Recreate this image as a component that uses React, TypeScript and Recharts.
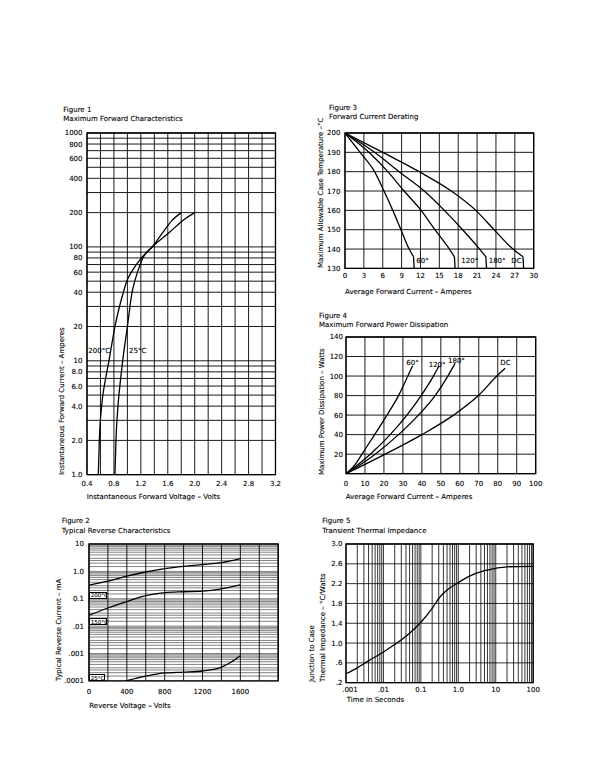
import React from "react";
import { LineChart, Line, XAxis, YAxis, CartesianGrid, ReferenceArea } from "recharts";

type Pt = { x: number; y: number };
type Rect = { left: number; top: number; width: number; height: number };

const FONT = "'DejaVu Sans', Verdana, sans-serif";
const INK = "#000";

// ---------- Figure 1: maximum forward characteristics ----------
const fwdVoltGrid = [0.4, 0.6, 0.8, 1.0, 1.2, 1.4, 1.6, 1.8, 2.0, 2.2, 2.4, 2.6, 2.8, 3.0, 3.2];
const fwdVoltTicks = [0.4, 0.8, 1.2, 1.6, 2.0, 2.4, 2.8, 3.2];
const fwdVoltLabels = ["0.4", "0.8", "1.2", "1.6", "2.0", "2.4", "2.8", "3.2"];
const fwdAmpGrid = [
  1, 2, 3, 4, 5, 6, 7, 8, 9, 10, 20, 30, 40, 50, 60, 70, 80, 90, 100, 200, 300, 400, 500, 600, 700,
  800, 900, 1000,
];
const fwdAmpTicks = [1, 2, 4, 6, 8, 10, 20, 40, 60, 80, 100, 200, 400, 600, 800, 1000];
const fwdAmpLabels = [
  "1.0", "2.0", "4.0", "6.0", "8.0", "10", "20", "40", "60", "80", "100", "200", "400", "600", "800", "1000",
];
const fwd200C: Pt[] = [
  { x: 0.568, y: 1 }, { x: 0.583, y: 2 }, { x: 0.617, y: 4 }, { x: 0.677, y: 7 },
  { x: 0.726, y: 10 }, { x: 0.815, y: 20 }, { x: 0.94, y: 40 }, { x: 0.99, y: 50 },
  { x: 1.06, y: 60 }, { x: 1.21, y: 80 }, { x: 1.37, y: 100 }, { x: 1.63, y: 135 },
  { x: 1.82, y: 170 }, { x: 2.0, y: 200 },
];
const fwd25C: Pt[] = [
  { x: 0.815, y: 1 }, { x: 0.83, y: 2 }, { x: 0.86, y: 4 }, { x: 0.9, y: 7 },
  { x: 0.93, y: 10 }, { x: 1.0, y: 20 }, { x: 1.07, y: 40 }, { x: 1.11, y: 50 },
  { x: 1.15, y: 60 }, { x: 1.23, y: 80 }, { x: 1.37, y: 100 }, { x: 1.53, y: 135 },
  { x: 1.66, y: 170 }, { x: 1.8, y: 200 },
];

// ---------- Figure 2: typical reverse characteristics ----------
const revVoltGrid = [0, 200, 400, 600, 800, 1000, 1200, 1400, 1600, 1800, 2000];
const revVoltTicks = [0, 400, 800, 1200, 1600];
const revVoltLabels = ["0", "400", "800", "1200", "1600"];
const revDecades = [0.0001, 0.001, 0.01, 0.1, 1];
const revMinor = [1, 1.5, 2, 2.5, 3, 4, 5, 6, 7, 8, 9];
const revAmpTicks = [0.0001, 0.001, 0.01, 0.1, 1, 10];
const revAmpLabels = [".0001", ".001", ".01", "0.1", "1.0", "10"];
const rev200C: Pt[] = [
  { x: 0, y: 0.317 }, { x: 200, y: 0.44 }, { x: 400, y: 0.67 }, { x: 600, y: 0.95 },
  { x: 800, y: 1.26 }, { x: 1000, y: 1.53 }, { x: 1200, y: 1.76 }, { x: 1400, y: 2.07 },
  { x: 1600, y: 2.9 },
];
const rev150C: Pt[] = [
  { x: 0, y: 0.025 }, { x: 200, y: 0.046 }, { x: 400, y: 0.079 }, { x: 600, y: 0.13 },
  { x: 800, y: 0.168 }, { x: 1000, y: 0.18 }, { x: 1200, y: 0.19 }, { x: 1400, y: 0.23 },
  { x: 1600, y: 0.32 },
];
const rev25C: Pt[] = [
  { x: 390, y: 0.0001 }, { x: 600, y: 0.000148 }, { x: 800, y: 0.000195 }, { x: 1000, y: 0.00021 },
  { x: 1200, y: 0.00023 }, { x: 1400, y: 0.00032 }, { x: 1500, y: 0.00048 }, { x: 1600, y: 0.00083 },
];

// ---------- Figure 3: forward current derating ----------
const derateAmpGrid = [0, 3, 6, 9, 12, 15, 18, 21, 24, 27, 30];
const derateTempGrid = [130, 140, 150, 160, 170, 180, 190, 200];
const derate60: Pt[] = [
  { x: 0, y: 200 }, { x: 2.4, y: 190 }, { x: 4.7, y: 180 }, { x: 6.2, y: 170 },
  { x: 7.6, y: 160 }, { x: 8.9, y: 150 }, { x: 10.2, y: 140 }, { x: 10.9, y: 136 },
];
const derate120: Pt[] = [
  { x: 0, y: 200 }, { x: 3.8, y: 190 }, { x: 6.8, y: 180 }, { x: 9.4, y: 170 },
  { x: 12.1, y: 160 }, { x: 14.3, y: 150 }, { x: 16.6, y: 140 }, { x: 17.4, y: 136 },
];
const derate180: Pt[] = [
  { x: 0, y: 200 }, { x: 4.7, y: 190 }, { x: 8.6, y: 180 }, { x: 12.6, y: 170 },
  { x: 15.8, y: 160 }, { x: 18.7, y: 150 }, { x: 21.4, y: 140 }, { x: 22.4, y: 136 },
];
const derateDC: Pt[] = [
  { x: 0, y: 200 }, { x: 6.0, y: 190 }, { x: 11.8, y: 180 }, { x: 16.9, y: 170 },
  { x: 20.8, y: 160 }, { x: 23.7, y: 150 }, { x: 26.7, y: 140 }, { x: 28.3, y: 136 },
];

// ---------- Figure 4: maximum forward power dissipation ----------
const powerAmpGrid = [0, 10, 20, 30, 40, 50, 60, 70, 80, 90, 100];
const powerWattGrid = [0, 20, 40, 60, 80, 100, 120, 140];
const powerWattTicks = [20, 40, 60, 80, 100, 120, 140];
const power60: Pt[] = [
  { x: 0, y: 0 }, { x: 4.9, y: 9.6 }, { x: 8.4, y: 20 }, { x: 15.1, y: 40 }, { x: 21.6, y: 60 },
  { x: 27.7, y: 80 }, { x: 32.6, y: 100 }, { x: 35.1, y: 110.6 },
];
const power120: Pt[] = [
  { x: 0, y: 0 }, { x: 12.8, y: 20 }, { x: 23.3, y: 40 }, { x: 32.1, y: 60 },
  { x: 39.6, y: 80 }, { x: 46.1, y: 100 }, { x: 49.1, y: 110.6 },
];
const power180: Pt[] = [
  { x: 0, y: 0 }, { x: 15.4, y: 20 }, { x: 27.7, y: 40 }, { x: 38.2, y: 60 },
  { x: 47.0, y: 80 }, { x: 53.7, y: 100 }, { x: 57.5, y: 113 },
];
const powerDC: Pt[] = [
  { x: 0, y: 0 }, { x: 20.7, y: 20 }, { x: 40, y: 40 }, { x: 56.7, y: 60 },
  { x: 69.8, y: 80 }, { x: 79.5, y: 100 }, { x: 83.9, y: 108 },
];

// ---------- Figure 5: transient thermal impedance ----------
const timeDecades = [0.001, 0.01, 0.1, 1, 10];
const timeMinor = [1, 2, 3, 4, 5, 6, 7, 8, 9];
const timeTicks = [0.001, 0.01, 0.1, 1, 10, 100];
const timeLabels = [".001", ".01", "0.1", "1.0", "10", "100"];
const zthGrid = [0.2, 0.6, 1.0, 1.4, 1.8, 2.2, 2.6, 3.0];
const zthLabels = [".2", ".6", "1.0", "1.4", "1.8", "2.2", "2.6", "3.0"];
const thermal: Pt[] = [
  { x: 0.001, y: 0.38 }, { x: 0.002, y: 0.5 }, { x: 0.004, y: 0.64 }, { x: 0.01, y: 0.82 },
  { x: 0.02, y: 0.97 }, { x: 0.05, y: 1.2 }, { x: 0.1, y: 1.42 }, { x: 0.2, y: 1.7 },
  { x: 0.3, y: 1.9 }, { x: 0.5, y: 2.07 }, { x: 1, y: 2.22 }, { x: 2, y: 2.35 },
  { x: 5, y: 2.46 }, { x: 10, y: 2.51 }, { x: 20, y: 2.54 }, { x: 100, y: 2.55 },
];

const logGrid = (decades: number[], minor: number[], top: number) => [
  ...decades.flatMap((d) => minor.map((m) => d * m)),
  top,
];

const labeler = (ticks: number[], labels: string[]) => (v: number) => {
  const i = ticks.findIndex((t) => Math.abs(t - v) <= Math.abs(t) * 1e-6 + 1e-9);
  return i < 0 ? "" : labels[i];
};

const dropTo = (s: Pt[], floor: number): Pt[] => {
  const last = s[s.length - 1];
  return [last, { x: last.x + 0.1, y: floor }];
};

const AXIS_W = 40;
const AXIS_H = 22;
const PAD_T = 4;
const PAD_R = 8;
const tickStyle = { fontSize: 7, fill: INK, fontFamily: FONT, stroke: INK, strokeWidth: 0.1 };
const textInk = { color: INK, WebkitTextStroke: "0.1px #000" } as React.CSSProperties;

function Panel({ rect, children }: { rect: Rect; children: React.ReactNode }) {
  return (
    <div style={{ position: "absolute", left: rect.left - AXIS_W, top: rect.top - PAD_T }}>
      <LineChart
        width={rect.width + AXIS_W + PAD_R}
        height={rect.height + PAD_T + AXIS_H}
        margin={{ top: PAD_T, right: PAD_R, bottom: 0, left: 0 }}
      >
        {children}
      </LineChart>
    </div>
  );
}

function Txt({ x, y, children, size = 7 }: { x: number; y: number; children: React.ReactNode; size?: number }) {
  return (
    <div
      style={{
        position: "absolute",
        left: x,
        top: y - 0.8,
        fontSize: size,
        lineHeight: `${size}px`,
        fontFamily: FONT,
        whiteSpace: "nowrap",
        ...textInk,
      }}
    >
      {children}
    </div>
  );
}

function VTxt({ x, y, children }: { x: number; y: number; children: React.ReactNode }) {
  return (
    <div
      style={{
        position: "absolute",
        left: x - 0.8,
        top: y,
        fontSize: 7,
        lineHeight: "7px",
        fontFamily: FONT,
        whiteSpace: "nowrap",
        transform: "rotate(-90deg)",
        transformOrigin: "0 0",
        ...textInk,
      }}
    >
      {children}
    </div>
  );
}

function Boxed({ x, y, w, h, children }: { x: number; y: number; w: number; h: number; children: React.ReactNode }) {
  return (
    <div
      style={{
        position: "absolute",
        left: x,
        top: y,
        width: w,
        height: h,
        boxSizing: "border-box",
        border: "0.6px solid #000",
        background: "#fff",
        fontSize: 5.5,
        lineHeight: `${h - 1}px`,
        fontFamily: FONT,
        paddingLeft: 1,
        whiteSpace: "nowrap",
        ...textInk,
      }}
    >
      {children}
    </div>
  );
}

// x tick whose first label sits a little inside the frame, as in the print
function ShiftTick(props: any) {
  const { x, y, payload, tickFormatter, index } = props;
  const label = tickFormatter ? tickFormatter(payload.value, index) : String(payload.value);
  if (!label) return null;
  return (
    <text x={x + (index === 0 ? 4 : 0)} y={y} dy="0.71em" textAnchor="middle" {...tickStyle}>
      {label}
    </text>
  );
}

const curve = (data: Pt[], key: string, type: "monotone" | "linear" = "monotone") => (
  <Line
    key={key}
    data={data}
    dataKey="y"
    type={type}
    stroke={INK}
    strokeWidth={1.3}
    dot={false}
    activeDot={false}
    isAnimationActive={false}
  />
);

const frame = (x: [number, number], y: [number, number]) => (
  <ReferenceArea
    key="frame"
    x1={x[0]}
    x2={x[1]}
    y1={y[0]}
    y2={y[1]}
    fill="none"
    stroke={INK}
    strokeWidth={1.3}
    ifOverflow="visible"
  />
);

const xAx = (
  domain: [number, number],
  grid: number[],
  fmt: (v: number) => string,
  gap: number,
  log = false,
  tick: any = tickStyle
) => (
  <XAxis
    key="x"
    dataKey="x"
    type="number"
    scale={log ? "log" : "linear"}
    domain={domain}
    allowDataOverflow
    ticks={grid}
    interval={0}
    tickFormatter={fmt}
    tick={tick}
    tickLine={false}
    axisLine={false}
    tickSize={0}
    tickMargin={gap}
    height={AXIS_H}
  />
);

const yAx = (
  domain: [number, number],
  grid: number[],
  fmt: (v: number) => string,
  gap: number,
  log = false
) => (
  <YAxis
    key="y"
    type="number"
    scale={log ? "log" : "linear"}
    domain={domain}
    allowDataOverflow
    ticks={grid}
    interval={0}
    tickFormatter={fmt}
    tick={tickStyle}
    tickLine={false}
    axisLine={false}
    tickSize={0}
    tickMargin={gap}
    width={AXIS_W}
  />
);

const grid = (w = 0.9) => <CartesianGrid key="g" stroke={INK} strokeWidth={w} />;

const fig1: Rect = { left: 87, top: 133.3, width: 188.5, height: 341.7 };
const fig2: Rect = { left: 88.6, top: 544.4, width: 189.2, height: 136.9 };
const fig3: Rect = { left: 345.3, top: 133.3, width: 188.7, height: 135.4 };
const fig4: Rect = { left: 345.5, top: 337.3, width: 189.7, height: 136.7 };
const fig5: Rect = { left: 345.5, top: 543.5, width: 187.2, height: 138.7 };

export default function App() {
  return (
    <div style={{ position: "absolute", left: 0, top: 0, width: 610, height: 779, background: "#fff" }}>
      {/* Figure 1 */}
      <Txt x={63.3} y={107.8}>Figure 1</Txt>
      <Txt x={63.3} y={116.7}>Maximum Forward Characteristics</Txt>
      <Panel rect={fig1}>
        {grid()}
        {xAx([0.4, 3.2], fwdVoltGrid, labeler(fwdVoltTicks, fwdVoltLabels), 6.5)}
        {yAx([1, 1000], fwdAmpGrid, labeler(fwdAmpTicks, fwdAmpLabels), 4.5, true)}
        {frame([0.4, 3.2], [1, 1000])}
        {curve(fwd200C, "c200")}
        {curve(fwd25C, "c25")}
      </Panel>
      <Txt x={88.3} y={349}>200°C</Txt>
      <Txt x={129} y={349}>25°C</Txt>
      <Txt x={86.7} y={495}>Instantaneous Forward Voltage – Volts</Txt>
      <VTxt x={60} y={475}>Instantaneous Forward Current – Amperes</VTxt>

      {/* Figure 2 */}
      <Txt x={61.7} y={518.3}>Figure 2</Txt>
      <Txt x={61.7} y={528.3}>Typical Reverse Characteristics</Txt>
      <Panel rect={fig2}>
        <CartesianGrid key="gh" vertical={false} stroke="#1a1a1a" strokeWidth={0.55} />
        <CartesianGrid key="gv" horizontal={false} stroke={INK} strokeWidth={0.9} />
        {xAx([0, 2000], revVoltGrid, labeler(revVoltTicks, revVoltLabels), 8)}
        {yAx([0.0001, 10], logGrid(revDecades, revMinor, 10), labeler(revAmpTicks, revAmpLabels), 5, true)}
        {frame([0, 2000], [0.0001, 10])}
        {curve(rev200C, "r200")}
        {curve(rev150C, "r150")}
        {curve(rev25C, "r25")}
      </Panel>
      <Boxed x={88.7} y={592.3} w={18.3} h={6.6}>200°C</Boxed>
      <Boxed x={88.7} y={618.3} w={18.3} h={7}>150°C</Boxed>
      <Boxed x={88.7} y={673.5} w={16} h={7.6}>25°C</Boxed>
      <Txt x={89.3} y={704}>Reverse Voltage – Volts</Txt>
      <VTxt x={56.5} y={681}>Typical Reverse Current – mA</VTxt>

      {/* Figure 3 */}
      <Txt x={329} y={105.7}>Figure 3</Txt>
      <Txt x={329} y={115.2}>Forward Current Derating</Txt>
      <Panel rect={fig3}>
        {grid()}
        {xAx([0, 30], derateAmpGrid, (v) => String(v), 4.6)}
        {yAx([130, 200], derateTempGrid, (v) => String(v), 4.6)}
        {frame([0, 30], [130, 200])}
        {curve(derate60, "d60")}
        {curve(derate120, "d120")}
        {curve(derate180, "d180")}
        {curve(derateDC, "dDC")}
        {curve(dropTo(derate60, 130), "d60e", "linear")}
        {curve(dropTo(derate120, 130), "d120e", "linear")}
        {curve(dropTo(derate180, 130), "d180e", "linear")}
        {curve(dropTo(derateDC, 130), "dDCe", "linear")}
      </Panel>
      <Txt x={416.3} y={258.7}>60°</Txt>
      <Txt x={461.3} y={258.7}>120°</Txt>
      <Txt x={488.7} y={258.7}>180°</Txt>
      <Txt x={511.3} y={258.7}>DC</Txt>
      <Txt x={345} y={289.3}>Average Forward Current – Amperes</Txt>
      <VTxt x={319} y={268}>Maximum Allowable Case Temperature –°C</VTxt>

      {/* Figure 4 */}
      <Txt x={319} y={313.3}>Figure 4</Txt>
      <Txt x={319} y={322.3}>Maximum Forward Power Dissipation</Txt>
      <Panel rect={fig4}>
        {grid()}
        {xAx([0, 100], powerAmpGrid, (v) => String(v), 7.5)}
        {yAx([0, 140], powerWattGrid, (v) => (powerWattTicks.includes(v) ? String(v) : ""), 3)}
        {frame([0, 100], [0, 140])}
        {curve(power60, "p60")}
        {curve(power120, "p120")}
        {curve(power180, "p180")}
        {curve(powerDC, "pDC")}
      </Panel>
      <Txt x={406.3} y={360.7}>60°</Txt>
      <Txt x={428.7} y={362.7}>120°</Txt>
      <Txt x={448} y={358.7}>180°</Txt>
      <Txt x={500.3} y={360.7}>DC</Txt>
      <Txt x={345.7} y={495}>Average Forward Current – Amperes</Txt>
      <VTxt x={320} y={475}>Maximum Power Dissipation – Watts</VTxt>

      {/* Figure 5 */}
      <Txt x={322.3} y={518.3}>Figure 5</Txt>
      <Txt x={322.3} y={528.3}>Transient Thermal Impedance</Txt>
      <Panel rect={fig5}>
        <CartesianGrid key="g5" stroke={INK} strokeWidth={0.8} />
        {xAx(
          [0.001, 100],
          logGrid(timeDecades, timeMinor, 100),
          labeler(timeTicks, timeLabels),
          4,
          true,
          <ShiftTick />
        )}
        {yAx([0.2, 3.0], zthGrid, labeler(zthGrid, zthLabels), 3.6)}
        {frame([0.001, 100], [0.2, 3.0])}
        {curve(thermal, "zth")}
      </Panel>
      <Txt x={346.7} y={697.7}>Time in Seconds</Txt>
      <VTxt x={310} y={681.7}>Junction to Case</VTxt>
      <VTxt x={320.7} y={681.7}>Thermal Impedance – °C/Watts</VTxt>
    </div>
  );
}
